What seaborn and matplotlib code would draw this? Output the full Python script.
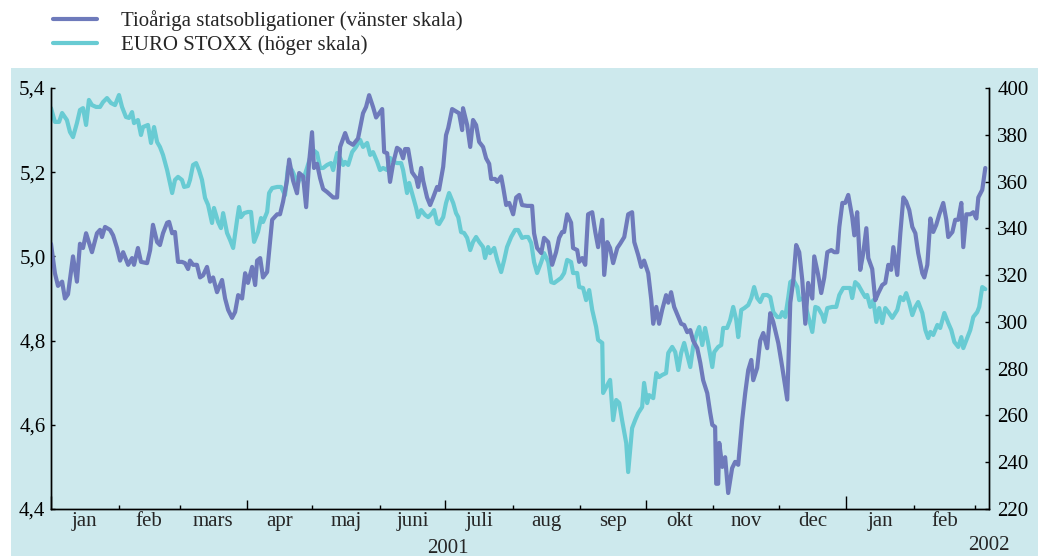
import matplotlib.pyplot as plt
from matplotlib.patches import Rectangle
import seaborn as sns
import pandas as pd
import numpy as np

# days after 2001-01-01
bond_day = [0, 1.8, 3.2, 5.1, 6.4, 7.8, 10.1, 11.9, 13.3, 14.7, 16.1, 18.8, 21.1, 22.5, 23.4, 24.8,
            27.1, 28.5, 30.3, 31.7, 33.1, 35.4, 37.2, 38.1, 39.9, 41.3, 44.1, 45.5, 46.8, 48.7, 50.0,
            51.4, 53.3, 54.2, 55.6, 56.9, 58.3, 60.1, 61.5, 62.9, 63.8, 65.2, 67.0, 68.4, 69.8, 71.6,
            73.0, 74.4, 76.2, 78.5, 79.9, 81.3, 83.1, 84.5, 85.9, 87.7, 89.1, 90.4, 92.3, 93.7, 94.6,
            96.0, 97.3, 99.2, 101.5, 103.8, 105.1, 106.5, 108.3, 109.3, 111.1, 112.9, 113.9, 115.7,
            117.1, 118.4, 119.8, 120.7, 122.1, 123.5, 124.9, 126.7, 129.5, 131.3, 132.7, 135.0, 136.4,
            138.6, 140.9, 143.2, 144.6, 146.0, 147.8, 149.2, 152.0, 152.9, 154.3, 155.6, 157.0, 158.8,
            160.2, 161.6, 162.5, 163.9, 165.7, 167.6, 168.5, 169.9, 170.8, 172.6, 174.0, 175.4, 177.2,
            178.1, 180.0, 181.3, 182.3, 184.1, 186.4, 187.3, 188.7, 189.1, 191.0, 192.4, 193.7, 195.1,
            196.5, 198.3, 199.7, 201.1, 202.0, 203.8, 204.8, 206.6, 207.5, 208.9, 210.3, 212.1, 213.5,
            214.9, 216.2, 218.5, 220.8, 221.7, 223.1, 225.0, 226.3, 228.2, 230.0, 231.8, 233.2, 234.6,
            235.5, 236.9, 238.7, 239.6, 241.5, 242.4, 243.8, 245.2, 246.5, 248.4, 249.8, 251.1, 253.0,
            253.9, 255.3, 256.6, 258.0, 259.9, 261.2, 263.1, 264.9, 266.7, 267.7, 269.5, 270.9, 272.2,
            274.1, 275.5, 276.4, 277.8, 279.1, 280.5, 282.3, 283.3, 284.6, 286.0, 287.9, 289.2, 290.6,
            292.0, 293.4, 294.7, 296.6, 298.0, 299.3, 301.2, 302.5, 303.5, 304.8, 305.3, 306.2, 306.7,
            308.1, 309.4, 310.8, 312.6, 314.0, 315.4, 317.2, 318.6, 320.0, 321.4, 322.3, 324.1, 325.5,
            326.9, 328.7, 330.1, 331.5, 333.8, 335.6, 337.9, 339.3, 340.7, 342.0, 343.4, 344.8, 346.2,
            347.5, 349.4, 350.3, 352.1, 353.5, 354.9, 356.3, 358.1, 359.5, 360.9, 361.8, 363.2, 364.5,
            365.9, 367.7, 368.7, 370.0, 371.4, 372.8, 374.2, 375.1, 376.9, 378.3, 379.7, 381.5, 382.9,
            384.3, 385.6, 386.6, 388.4, 389.8, 391.2, 392.5, 393.9, 395.3, 396.7, 398.0, 399.9, 400.8,
            402.2, 403.6, 404.9, 406.3, 407.7, 409.5, 410.9, 411.8, 413.7, 415.0, 416.4, 417.8, 418.7,
            420.1, 421.9, 423.3, 424.7, 425.6, 427.4, 428.8]
bond_rate = [5.03, 4.96, 4.93, 4.94, 4.90, 4.91, 5.00, 4.94, 5.03, 5.02, 5.055, 5.01, 5.055, 5.063, 5.046, 5.07,
             5.063, 5.05, 5.02, 4.99, 5.01, 4.98, 4.996, 4.98, 5.02, 4.987, 4.984, 5.015, 5.075, 5.034, 5.027,
             5.055, 5.08, 5.082, 5.055, 5.058, 4.987, 4.987, 4.984, 4.97, 4.99, 4.98, 4.98, 4.95, 4.955, 4.975,
             4.94, 4.95, 4.915, 4.944, 4.90, 4.873, 4.854, 4.868, 4.908, 4.90, 4.96, 4.937, 4.975, 4.932, 4.99,
             4.996, 4.95, 4.963, 5.087, 5.10, 5.10, 5.13, 5.18, 5.23, 5.18, 5.15, 5.198,
             5.19, 5.117, 5.22, 5.295, 5.21, 5.22, 5.186, 5.16, 5.153, 5.14, 5.14, 5.26, 5.293, 5.272,
             5.265, 5.28, 5.34, 5.355, 5.383, 5.355, 5.33, 5.35, 5.248, 5.245, 5.177, 5.22, 5.258,
             5.253, 5.233, 5.255, 5.255, 5.20, 5.186, 5.165, 5.21, 5.18, 5.14, 5.122, 5.14, 5.165,
             5.158, 5.213, 5.288, 5.305, 5.35, 5.343, 5.34, 5.30, 5.352, 5.312, 5.26, 5.324, 5.312,
             5.272, 5.26, 5.233, 5.22, 5.184, 5.184, 5.177, 5.19, 5.165, 5.122, 5.127, 5.10, 5.14,
             5.146, 5.122, 5.12, 5.12, 5.055, 5.02, 5.008, 5.044, 5.034, 4.98, 5.01, 5.044, 5.058,
             5.058, 5.10, 5.08, 5.02, 5.015, 4.987, 4.996, 4.98, 5.10, 5.105, 5.058, 5.022, 5.087,
             4.956, 5.034, 5.02, 4.984, 5.02, 5.03, 5.046, 5.10, 5.105, 5.034, 5.003, 4.975, 4.99,
             4.96, 4.897, 4.84, 4.88, 4.84, 4.873, 4.908, 4.89, 4.915, 4.88, 4.856, 4.84, 4.837,
             4.82, 4.825, 4.80, 4.782, 4.747, 4.706, 4.675, 4.63, 4.60, 4.595, 4.46, 4.46, 4.557,
             4.50, 4.523, 4.438, 4.497, 4.512, 4.505, 4.61, 4.675, 4.73, 4.754, 4.706, 4.735, 4.80,
             4.818, 4.782, 4.865, 4.844, 4.794, 4.737, 4.66, 4.89, 4.944, 5.027, 5.01, 4.944, 4.84,
             4.937, 4.90, 5.0, 4.956, 4.913, 4.95, 5.01, 5.015, 5.01, 5.01, 5.07, 5.127, 5.127,
             5.146, 5.094, 5.05, 5.105, 4.968, 5.008, 5.067, 4.996, 4.97, 4.896, 4.913, 4.932, 4.937,
             4.98, 4.968, 5.022, 4.956, 5.055, 5.14, 5.13, 5.11, 5.07, 5.055, 5.008, 4.96, 4.95,
             4.98, 5.09, 5.058, 5.075, 5.10, 5.127, 5.087, 5.046, 5.058, 5.087, 5.087, 5.127, 5.022,
             5.10, 5.10, 5.105, 5.09, 5.14, 5.158, 5.21]

stoxx_day = [0, 1.8, 3.7, 5.1, 7.3, 8.7, 10.1, 11.9, 13.3, 14.7, 16.1, 17.4, 18.8, 20.7, 22.5, 23.9,
             25.7, 27.5, 29.4, 31.2, 32.6, 34.4, 35.8, 37.2, 38.1, 39.9, 41.3, 42.2, 44.5, 45.9, 47.3,
             48.7, 50.0, 51.4, 53.3, 54.6, 55.6, 56.9, 58.3, 60.1, 61.1, 62.9, 63.8, 65.2, 66.6, 67.9,
             69.3, 70.7, 72.1, 73.9, 74.8, 76.7, 78.0, 79.0, 80.8, 82.2, 83.6, 85.4, 86.3, 87.2, 88.6,
             90.4, 91.8, 93.2, 95.0, 96.4, 97.3, 99.2, 100.1, 101.5, 103.8, 105.6, 107.4, 108.8, 110.6,
             112.0, 113.4, 114.3, 115.7, 117.5, 118.9, 120.3, 122.1, 123.5, 124.9, 126.7, 128.5, 129.5,
             131.3, 132.7, 134.1, 135.0, 136.4, 138.2, 140.0, 141.9, 143.2, 145.1, 146.5, 147.8, 149.7,
             151.0, 152.4, 154.3, 155.6, 157.5, 158.8, 160.7, 161.6, 163.4, 164.4, 166.2, 167.6, 168.5,
             169.9, 171.7, 173.1, 174.9, 175.8, 177.2, 178.1, 180.0, 181.3, 182.7, 184.6, 185.9, 186.9,
             188.2, 189.6, 191.0, 192.4, 193.7, 195.1, 196.5, 198.3, 199.2, 200.6, 201.5, 203.4, 204.8,
             206.6, 208.0, 209.3, 211.2, 213.0, 214.4, 216.2, 217.6, 219.0, 220.4, 221.7, 223.1, 225.0,
             226.3, 228.2, 229.6, 230.9, 232.8, 234.1, 235.5, 236.9, 238.7, 239.6, 241.5, 242.4, 244.2,
             245.6, 247.0, 248.4, 250.2, 251.1, 253.0, 253.4, 255.3, 256.6, 258.0, 259.4, 260.8, 262.1,
             264.0, 264.9, 266.7, 268.1, 269.5, 271.3, 272.2, 273.6, 274.5, 276.4, 277.8, 279.1, 280.5,
             282.3, 283.3, 285.1, 286.5, 287.9, 289.2, 290.6, 292.0, 293.4, 294.7, 296.6, 297.5, 298.9,
             300.2, 301.6, 303.5, 304.4, 306.2, 307.6, 308.5, 310.3, 311.7, 313.1, 314.5, 315.4, 316.8,
             318.2, 320.0, 321.4, 322.7, 324.1, 325.5, 326.9, 328.7, 330.1, 331.5, 333.3, 334.7, 335.6,
             337.0, 338.4, 339.3, 340.7, 342.5, 343.4, 345.2, 346.6, 348.0, 349.4, 350.8, 352.1, 354.0,
             354.9, 356.3, 358.6, 360.4, 361.8, 363.6, 365.4, 366.8, 367.7, 369.1, 370.5, 372.3, 373.7,
             374.6, 376.0, 377.4, 378.8, 380.1, 381.5, 382.9, 384.3, 386.1, 387.5, 388.4, 389.8, 391.2,
             392.5, 393.9, 395.3, 396.7, 398.0, 399.9, 401.3, 402.6, 403.6, 404.9, 406.8, 408.1, 410.0,
             411.8, 413.2, 414.6, 416.4, 417.8, 418.7, 420.5, 421.9, 423.3, 425.1, 426.0, 427.4, 428.8]
stoxx_index = [391.4, 385.5, 385.5, 389.3, 386.3, 381.2, 379.0, 385.0, 390.6, 391.4, 384.2, 394.9, 392.7, 391.9, 391.9, 394.0,
               395.7, 393.6, 392.7, 397.0, 391.9, 387.6, 387.2, 389.7, 385.0, 386.3, 379.9, 383.3, 384.2, 376.5, 383.3,
               376.9, 374.8, 371.4, 364.9, 359.4, 355.1, 360.7, 362.0, 360.7, 357.7, 358.1, 360.7, 367.1, 367.9, 364.9,
               360.7, 353.0, 350.0, 342.3, 348.7, 342.7, 340.1, 346.5, 338.0, 335.0, 331.6, 343.6, 349.1, 344.8, 346.5,
               347.0, 347.0, 334.2, 338.4, 344.4, 342.7, 347.0, 355.1, 357.2, 357.7, 357.7, 354.2, 366.2, 364.9,
               362.0, 359.4, 362.0, 360.7, 365.8, 370.1, 373.5, 372.2, 365.8, 365.8, 367.1, 367.9, 364.9,
               372.2, 370.1, 367.1, 368.4, 367.1, 372.6, 374.8, 377.8, 374.8, 376.5, 371.4, 372.6, 368.4,
               364.9, 365.8, 364.9, 370.1, 368.4, 367.9, 367.9, 364.9, 355.1, 359.4, 353.4, 348.7, 344.8,
               347.8, 345.7, 344.8, 346.5, 347.8, 342.3, 341.8, 344.8, 350.8, 355.1, 350.8, 346.5, 344.8,
               338.4, 338.0, 335.9, 330.7, 334.2, 336.3, 334.2, 332.0, 327.3, 332.0, 329.4, 331.6, 326.5,
               321.3, 326.5, 332.0, 336.3, 339.3, 339.3, 335.9, 336.3, 336.3, 333.7, 325.6, 320.9, 325.6,
               329.4, 325.6, 317.0, 316.6, 317.9, 318.8, 320.9, 326.5, 325.6, 320.9, 320.9, 314.9, 314.5,
               309.3, 313.6, 305.1, 297.8, 292.3, 291.0, 269.6, 273.0, 275.2, 258.0, 266.6, 265.3, 258.0,
               248.2, 235.8, 254.6, 258.0, 261.0, 263.6, 273.9, 265.3, 268.7, 267.4, 278.1, 276.4, 277.3,
               278.1, 286.7, 289.3, 287.1, 279.4, 286.7, 291.0, 285.8, 280.7, 289.3, 295.7, 297.8, 290.1,
               297.4, 291.0, 280.7, 287.1, 289.3, 290.1, 297.4, 297.4, 300.8, 306.4, 300.8, 293.5, 305.1,
               305.9, 307.2, 310.2, 314.9, 310.2, 308.5, 311.5, 311.5, 310.6, 304.2, 302.1, 302.1, 304.2,
               302.1, 310.6, 317.0, 317.9, 314.9, 309.3, 310.2, 305.9, 300.8, 295.7, 306.4, 305.9, 302.9,
               300.0, 305.9, 306.4, 306.4, 311.5, 314.5, 314.5, 314.5, 310.2, 317.0, 315.8, 312.8, 310.6,
               311.5, 306.4, 309.3, 300.0, 305.9, 299.5, 305.9, 304.2, 301.7, 303.8, 305.1, 310.6, 309.3,
               312.3, 308.1, 302.9, 306.4, 308.5, 303.8, 296.5, 293.1, 295.7, 294.4, 298.7, 297.4, 303.8,
               299.5, 296.5, 291.4, 289.3, 293.5, 288.8, 293.1, 296.5, 302.1, 304.2, 306.4, 314.9, 314.0]

month_labels = ["jan", "feb", "mars", "apr", "maj", "juni", "juli", "aug", "sep", "okt", "nov", "dec",
                "jan", "feb"]
year_labels = ["2001", "2002"]
left_ticks = [4.4, 4.6, 4.8, 5.0, 5.2, 5.4]
left_labels = ["4,4", "4,6", "4,8", "5,0", "5,2", "5,4"]
right_ticks = [220, 240, 260, 280, 300, 320, 340, 360, 380, 400]
series_names = ["Tioåriga statsobligationer (vänster skala)", "EURO STOXX (höger skala)"]

BOND_COLOR = "#6e7abb"
STOXX_COLOR = "#68cbd3"
PANEL_COLOR = "#cde9ed"
FS = 15
W, H = 1038, 556

sns.set_theme(style="ticks")
plt.rcParams["font.family"] = ["Liberation Serif", "DejaVu Serif"]
plt.rcParams["font.size"] = FS

fig = plt.figure(figsize=(W / 100, H / 100), dpi=100)
fig.patches.append(Rectangle((11 / W, 0), (W - 11) / W, 488 / H, transform=fig.transFigure,
                             facecolor=PANEL_COLOR, edgecolor="none", zorder=-10))

ax = fig.add_axes([51 / W, 1 - 509 / H, (989 - 51) / W, (509 - 88) / H])
ax2 = ax.twinx()
for a in (ax, ax2):
    a.set_facecolor("none")

bond = pd.DataFrame({"day": bond_day, "rate": bond_rate})
stoxx = pd.DataFrame({"day": stoxx_day, "index": stoxx_index})

sns.lineplot(data=bond, x="day", y="rate", ax=ax, color=BOND_COLOR, lw=3,
             estimator=None, sort=False, label=series_names[0], legend=False)
sns.lineplot(data=stoxx, x="day", y="index", ax=ax2, color=STOXX_COLOR, lw=3,
             estimator=None, sort=False, label=series_names[1], legend=False)
ax.set_zorder(ax2.get_zorder() + 1)

origin = pd.Timestamp("2001-01-01")
month_starts = pd.date_range("2001-01-01", "2002-03-01", freq="MS")
month_pos = np.asarray((month_starts - origin).days, dtype=float)
mid_pos = month_pos[:-1] + np.diff(month_pos) / 2

ax.set_xlim(0, 430.5)
ax.set_ylim(4.4, 5.4)
ax2.set_ylim(220, 400)

ax.set_yticks(left_ticks)
ax.set_yticklabels(left_labels)
ax2.set_yticks(right_ticks)
ax.set_ylabel("")
ax2.set_ylabel("")
ax.set_xlabel("")

ax.set_xticks(month_pos)
ax.set_xticklabels([])
ax.set_xticks(mid_pos, minor=True)
ax.set_xticklabels(month_labels, minor=True)
ax.tick_params(axis="x", which="minor", length=0, pad=2, labelsize=FS)
ax.tick_params(axis="x", which="major", direction="in", length=3, width=1, color="black")
ax.tick_params(axis="y", direction="in", length=3, width=1, pad=4, labelsize=FS, colors="black")
ax2.tick_params(axis="y", direction="in", length=3, width=1, pad=6, labelsize=FS, colors="black")

# longer ticks at quarter and year boundaries
for tick, ts in zip(ax.xaxis.get_major_ticks(), month_starts):
    if ts.month == 1:
        tick.tick1line.set_markersize(9.5)
    elif ts.month in (4, 7, 10):
        tick.tick1line.set_markersize(6.5)

for a in (ax, ax2):
    a.spines["top"].set_visible(False)
    for side in ("left", "right", "bottom"):
        a.spines[side].set_color("black")
        a.spines[side].set_linewidth(1)

xform = ax.get_xaxis_transform()
ax.text((pd.Timestamp("2001-07-02") - origin).days, -0.093, year_labels[0], transform=xform,
        ha="center", va="center", fontsize=FS)
ax.text(430.5, -0.087, year_labels[1], transform=xform, ha="center", va="center", fontsize=FS)

handles = ax.get_lines()[:1] + ax2.get_lines()[:1]
leg = fig.legend(handles, series_names, loc="upper left", bbox_to_anchor=(53 / W, 1 - 10 / H),
                 frameon=False, fontsize=FS, handlelength=2.1, handletextpad=1.15,
                 borderpad=0, borderaxespad=0, labelspacing=0.2)
for line in leg.get_lines():
    line.set_linewidth(3)

fig.savefig("out.png", dpi=100)
